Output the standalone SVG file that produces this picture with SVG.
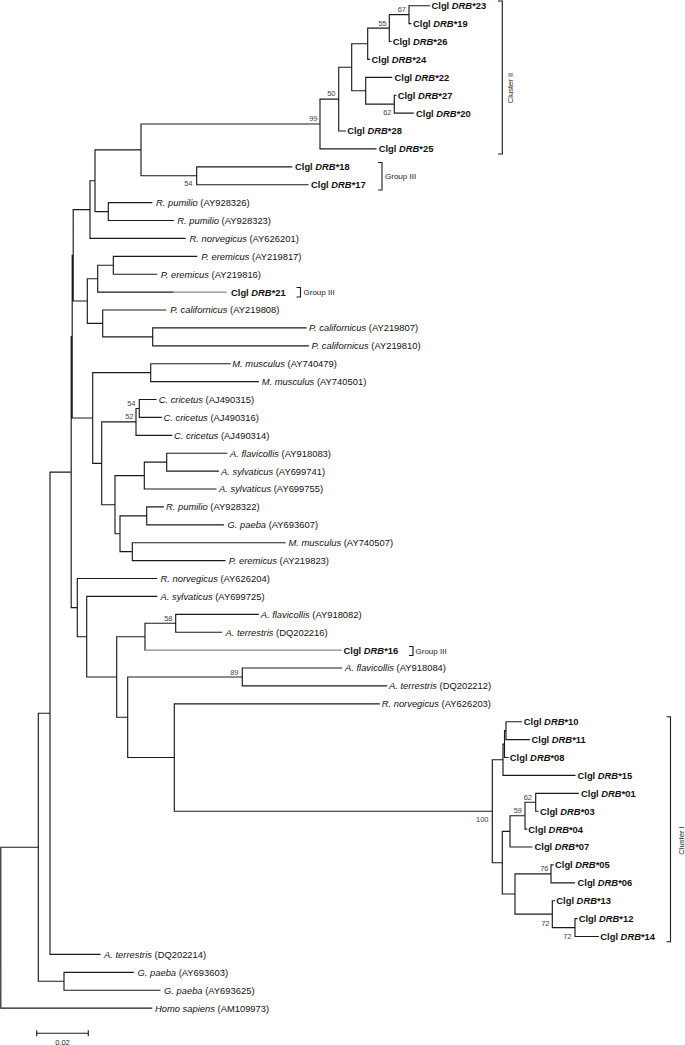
<svg xmlns="http://www.w3.org/2000/svg" width="685" height="1045" viewBox="0 0 685 1045">
<style>
text{font-family:"Liberation Sans",Arial,sans-serif;fill:#111}
.lt{font-size:9.4px}
.lb{font-size:9.4px;font-weight:bold}
.i{font-style:italic}
.bs{font-size:7.5px;fill:#444;text-anchor:end}
.grp{font-size:8px;fill:#222}
.cl{font-size:7.6px;fill:#222;text-anchor:middle}
.br{fill:none;stroke:#1a1a1a;stroke-width:1.15;stroke-linecap:square}
.gr{fill:none;stroke:#8a8a8a;stroke-width:1.15}
.bk{fill:none;stroke:#1a1a1a;stroke-width:1.1}
</style>
<rect width="685" height="1045" fill="#fff"/>
<g id="connectors">
<path class="br" d="
M389.3,14.65H409M409,5.7V23.6
M367.7,28.1H389.3M389.3,14.65V41.5
M351.7,43.75H367.7M367.7,28.1V59.4
M365.7,104.15H394.3M394.3,95.2V113.1
M351.7,90.7H365.7M365.7,77.3V104.15
M338.7,67.2H351.7M351.7,43.75V90.7
M320,99.1H338.7M338.7,67.2V131
M141,124H320M320,99.1V148.9
M141,175.75H196.7M196.7,166.8V184.7
M95,149.9H141M141,124V175.75
M95,211.55H108.3M108.3,202.6V220.5
M90,180.7H95M95,149.9V211.55
M73.2,209.55H90M90,180.7V238.4
M97.7,265.25H113.3M113.3,256.3V274.2
M87.3,278.7H97.7M97.7,265.25V292.1
M102.7,336.85H152.7M152.7,327.9V345.8
M87.3,323.4H102.7M102.7,310V336.85
M73.2,301H87.3M87.3,278.7V323.4
M72.2,255.3H73.2M73.2,209.55V301
M92.7,372.65H150.7M150.7,363.7V381.6
M136,408.45H139.3M139.3,399.5V417.4
M101.7,421.9H136M136,408.45V435.3
M144.3,462.15H166.7M166.7,453.2V471.1
M115,475.6H144.3M144.3,462.15V489
M120,515.85H146.7M146.7,506.9V524.8
M120,551.65H132.3M132.3,542.7V560.6
M115,533.75H120M120,515.85V551.65
M101.7,504.7H115M115,475.6V533.75
M92.7,463.3H101.7M101.7,421.9V504.7
M72.2,418H92.7M92.7,372.65V463.3
M71.2,336.65H72.2M72.2,255.3V418
M145,623.25H175.7M175.7,614.3V632.2
M116.7,636.7H145M145,623.25V650.1
M127.7,676.95H242.3M242.3,668V685.9
M504.5,730.65H506M506,721.7V739.6
M503,744.1H504.5M504.5,730.65V757.5
M492.3,759.75H503M503,744.1V775.4
M525,802.25H535.7M535.7,793.3V811.2
M510,815.7H525M525,802.25V829.1
M502.3,831.35H510M510,815.7V847
M515,873.85H551M551,864.9V882.8
M552.3,927.55H575M575,918.6V936.5
M515,914.1H552.3M552.3,900.7V927.55
M502.3,894H515M515,873.85V914.1
M492.3,862.7H502.3M502.3,831.35V894
M174.3,811.2H492.3M492.3,759.75V862.7
M127.7,757.5H174.3M174.3,703.8V811.2
M116.7,717.2H127.7M127.7,676.95V757.5
M86.7,676.95H116.7M116.7,636.7V717.2
M77.3,636.7H86.7M86.7,596.4V676.95
M71.2,607.6H77.3M77.3,578.5V636.7
M50,472.1H71.2M71.2,336.65V607.6
M38.3,713.25H50M50,472.1V954.4
M38.3,981.25H64M64,972.3V990.2
M0.8,847.25H38.3M38.3,713.25V981.25
M0.8,847.25V1008.1
M409,5.7H429.3 M409,23.6H410.8 M389.3,41.5H391 M367.7,59.4H369.5
M365.7,77.3H391.7 M394.3,95.2H396 M394.3,113.1H413.3 M338.7,131H345.5
M320,148.9H376 M196.7,166.8H291.7 M196.7,184.7H308
M108.3,202.6H151.7 M108.3,220.5H173.3 M90,238.4H185
M113.3,256.3H196.7 M113.3,274.2H156.7 M97.7,292.1H173
M102.7,310H165.7 M152.7,327.9H306 M152.7,345.8H308.3
M150.7,363.7H230 M150.7,381.6H258.3
M139.3,399.5H156 M139.3,417.4H161.3 M136,435.3H171.7
M166.7,453.2H226.7 M166.7,471.1H218.3 M144.3,489H216
M146.7,506.9H163.3 M146.7,524.8H223.3 M132.3,542.7H285 M132.3,560.6H225
M77.3,578.5H156.7 M86.7,596.4H156.7
M175.7,614.3H258.3 M175.7,632.2H221.7
M242.3,668H341.7 M242.3,685.9H386.7 M174.3,703.8H379.3
M506,721.7H521.5 M506,739.6H529.3 M504.5,757.5H508 M503,775.4H575
M535.7,793.3H578.3 M535.7,811.2H538 M525,829.1H526.7 M510,847H531.7
M551,864.9H553 M551,882.8H574.3 M552.3,900.7H554.5
M575,918.6H577 M575,936.5H598.3
M50,954.4H100 M64,972.3H133.3 M64,990.2H160 M0.8,1008.1H151.7"/>
<path class="gr" d="M173,292.1H226.7 M145.6,650.1H341.7"/>
</g>
<g id="bootstrap">
<text class="bs" x="406" y="12">67</text>
<text class="bs" x="386.5" y="25.5">55</text>
<text class="bs" x="335.5" y="96">50</text>
<text class="bs" x="317.5" y="120.5">99</text>
<text class="bs" x="391.5" y="115">62</text>
<text class="bs" x="192.5" y="186">54</text>
<text class="bs" x="135.5" y="405.5">54</text>
<text class="bs" x="133.5" y="418.5">52</text>
<text class="bs" x="172.5" y="621">58</text>
<text class="bs" x="238.5" y="674.5">89</text>
<text class="bs" x="488.5" y="822">100</text>
<text class="bs" x="532" y="799.5">62</text>
<text class="bs" x="522" y="813">59</text>
<text class="bs" x="548.5" y="871">76</text>
<text class="bs" x="549.5" y="925.5">72</text>
<text class="bs" x="571.5" y="939">72</text>
</g>
<g id="leaf-drb23"><text class="lb" x="431.5" y="9.1">Clgl <tspan class="i">DRB</tspan>*23</text></g>
<g id="leaf-drb19"><text class="lb" x="413" y="27">Clgl <tspan class="i">DRB</tspan>*19</text></g>
<g id="leaf-drb26"><text class="lb" x="392.7" y="44.9">Clgl <tspan class="i">DRB</tspan>*26</text></g>
<g id="leaf-drb24"><text class="lb" x="371.5" y="62.8">Clgl <tspan class="i">DRB</tspan>*24</text></g>
<g id="leaf-drb22"><text class="lb" x="394.5" y="80.7">Clgl <tspan class="i">DRB</tspan>*22</text></g>
<g id="leaf-drb27"><text class="lb" x="397.7" y="98.6">Clgl <tspan class="i">DRB</tspan>*27</text></g>
<g id="leaf-drb20"><text class="lb" x="416" y="116.5">Clgl <tspan class="i">DRB</tspan>*20</text></g>
<g id="leaf-drb28"><text class="lb" x="347.2" y="134.4">Clgl <tspan class="i">DRB</tspan>*28</text></g>
<g id="leaf-drb25"><text class="lb" x="378.7" y="152.3">Clgl <tspan class="i">DRB</tspan>*25</text></g>
<g id="leaf-drb18"><text class="lb" x="295" y="170.2">Clgl <tspan class="i">DRB</tspan>*18</text></g>
<g id="leaf-drb17"><text class="lb" x="311" y="188.1">Clgl <tspan class="i">DRB</tspan>*17</text></g>
<g id="leaf-ay928326"><text class="lt" x="156" y="206"><tspan class="i">R. pumilio</tspan> (AY928326)</text></g>
<g id="leaf-ay928323"><text class="lt" x="177.3" y="223.9"><tspan class="i">R. pumilio</tspan> (AY928323)</text></g>
<g id="leaf-ay626201"><text class="lt" x="189.5" y="241.8"><tspan class="i">R. norvegicus</tspan> (AY626201)</text></g>
<g id="leaf-ay219817"><text class="lt" x="201.2" y="259.7"><tspan class="i">P. eremicus</tspan> (AY219817)</text></g>
<g id="leaf-ay219816"><text class="lt" x="160.7" y="277.6"><tspan class="i">P. eremicus</tspan> (AY219816)</text></g>
<g id="leaf-drb21"><text class="lb" x="231" y="295.5">Clgl <tspan class="i">DRB</tspan>*21</text></g>
<g id="leaf-ay219808"><text class="lt" x="170.3" y="313.4"><tspan class="i">P. californicus</tspan> (AY219808)</text></g>
<g id="leaf-ay219807"><text class="lt" x="309" y="331.3"><tspan class="i">P. californicus</tspan> (AY219807)</text></g>
<g id="leaf-ay219810"><text class="lt" x="311.5" y="349.2"><tspan class="i">P. californicus</tspan> (AY219810)</text></g>
<g id="leaf-ay740479"><text class="lt" x="232.3" y="367.1"><tspan class="i">M. musculus</tspan> (AY740479)</text></g>
<g id="leaf-ay740501"><text class="lt" x="261.7" y="385"><tspan class="i">M. musculus</tspan> (AY740501)</text></g>
<g id="leaf-aj490315"><text class="lt" x="158.7" y="402.9"><tspan class="i">C. cricetus</tspan> (AJ490315)</text></g>
<g id="leaf-aj490316"><text class="lt" x="163.5" y="420.8"><tspan class="i">C. cricetus</tspan> (AJ490316)</text></g>
<g id="leaf-aj490314"><text class="lt" x="174" y="438.7"><tspan class="i">C. cricetus</tspan> (AJ490314)</text></g>
<g id="leaf-ay918083"><text class="lt" x="230" y="456.6"><tspan class="i">A. flavicollis</tspan> (AY918083)</text></g>
<g id="leaf-ay699741"><text class="lt" x="221" y="474.5"><tspan class="i">A. sylvaticus</tspan> (AY699741)</text></g>
<g id="leaf-ay699755"><text class="lt" x="219" y="492.4"><tspan class="i">A. sylvaticus</tspan> (AY699755)</text></g>
<g id="leaf-ay928322"><text class="lt" x="166" y="510.3"><tspan class="i">R. pumilio</tspan> (AY928322)</text></g>
<g id="leaf-ay693607"><text class="lt" x="227.5" y="528.2"><tspan class="i">G. paeba</tspan> (AY693607)</text></g>
<g id="leaf-ay740507"><text class="lt" x="288.5" y="546.1"><tspan class="i">M. musculus</tspan> (AY740507)</text></g>
<g id="leaf-ay219823"><text class="lt" x="228.7" y="564"><tspan class="i">P. eremicus</tspan> (AY219823)</text></g>
<g id="leaf-ay626204"><text class="lt" x="160.5" y="581.9"><tspan class="i">R. norvegicus</tspan> (AY626204)</text></g>
<g id="leaf-ay699725"><text class="lt" x="160.5" y="599.8"><tspan class="i">A. sylvaticus</tspan> (AY699725)</text></g>
<g id="leaf-ay918082"><text class="lt" x="260.7" y="617.7"><tspan class="i">A. flavicollis</tspan> (AY918082)</text></g>
<g id="leaf-dq202216"><text class="lt" x="225.5" y="635.6"><tspan class="i">A. terrestris</tspan> (DQ202216)</text></g>
<g id="leaf-drb16"><text class="lb" x="343.5" y="653.5">Clgl <tspan class="i">DRB</tspan>*16</text></g>
<g id="leaf-ay918084"><text class="lt" x="345" y="671.4"><tspan class="i">A. flavicollis</tspan> (AY918084)</text></g>
<g id="leaf-dq202212"><text class="lt" x="389" y="689.3"><tspan class="i">A. terrestris</tspan> (DQ202212)</text></g>
<g id="leaf-ay626203"><text class="lt" x="381.7" y="707.2"><tspan class="i">R. norvegicus</tspan> (AY626203)</text></g>
<g id="leaf-drb10"><text class="lb" x="523.8" y="725.1">Clgl <tspan class="i">DRB</tspan>*10</text></g>
<g id="leaf-drb11"><text class="lb" x="531.5" y="743">Clgl <tspan class="i">DRB</tspan>*11</text></g>
<g id="leaf-drb08"><text class="lb" x="509.8" y="760.9">Clgl <tspan class="i">DRB</tspan>*08</text></g>
<g id="leaf-drb15"><text class="lb" x="577.5" y="778.8">Clgl <tspan class="i">DRB</tspan>*15</text></g>
<g id="leaf-drb01"><text class="lb" x="581" y="796.7">Clgl <tspan class="i">DRB</tspan>*01</text></g>
<g id="leaf-drb03"><text class="lb" x="540" y="814.6">Clgl <tspan class="i">DRB</tspan>*03</text></g>
<g id="leaf-drb04"><text class="lb" x="528.3" y="832.5">Clgl <tspan class="i">DRB</tspan>*04</text></g>
<g id="leaf-drb07"><text class="lb" x="534.5" y="850.4">Clgl <tspan class="i">DRB</tspan>*07</text></g>
<g id="leaf-drb05"><text class="lb" x="555" y="868.3">Clgl <tspan class="i">DRB</tspan>*05</text></g>
<g id="leaf-drb06"><text class="lb" x="577.5" y="886.2">Clgl <tspan class="i">DRB</tspan>*06</text></g>
<g id="leaf-drb13"><text class="lb" x="556.3" y="904.1">Clgl <tspan class="i">DRB</tspan>*13</text></g>
<g id="leaf-drb12"><text class="lb" x="578.7" y="922">Clgl <tspan class="i">DRB</tspan>*12</text></g>
<g id="leaf-drb14"><text class="lb" x="600.3" y="939.9">Clgl <tspan class="i">DRB</tspan>*14</text></g>
<g id="leaf-dq202214"><text class="lt" x="104" y="957.8"><tspan class="i">A. terrestris</tspan> (DQ202214)</text></g>
<g id="leaf-ay693603"><text class="lt" x="137.5" y="975.7"><tspan class="i">G. paeba</tspan> (AY693603)</text></g>
<g id="leaf-ay693625"><text class="lt" x="164" y="993.6"><tspan class="i">G. paeba</tspan> (AY693625)</text></g>
<g id="leaf-am109973"><text class="lt" x="155" y="1011.5"><tspan class="i">Homo sapiens</tspan> (AM109973)</text></g>
<g id="cluster-ii">
<path class="bk" d="M498,1H502.3V154H498"/>
<text class="cl" transform="translate(512.6,88) rotate(-90)">Cluster II</text>
</g>
<g id="group-iii-a">
<path class="bk" d="M378,162.5H382V190H378"/>
<text class="grp" x="385" y="179">Group III</text>
</g>
<g id="group-iii-b">
<path class="bk" d="M296.5,287.5H300.5V297H296.5"/>
<text class="grp" x="303.5" y="295">Group III</text>
</g>
<g id="group-iii-c">
<path class="bk" d="M409,646.5H413V655.5H409"/>
<text class="grp" x="415.5" y="653.5">Group III</text>
</g>
<g id="cluster-i">
<path class="bk" d="M666.5,716.8H670.5V941.8H666.5"/>
<text class="cl" transform="translate(683.8,840.5) rotate(-90)">Cluster I</text>
</g>
<g id="scale-bar">
<path class="bk" d="M36.7,1033.3H88.3M36.7,1030.3V1036.3M88.3,1030.3V1036.3"/>
<text class="cl" x="62.5" y="1044.5" style="font-size:7.5px">0.02</text>
</g>
</svg>
